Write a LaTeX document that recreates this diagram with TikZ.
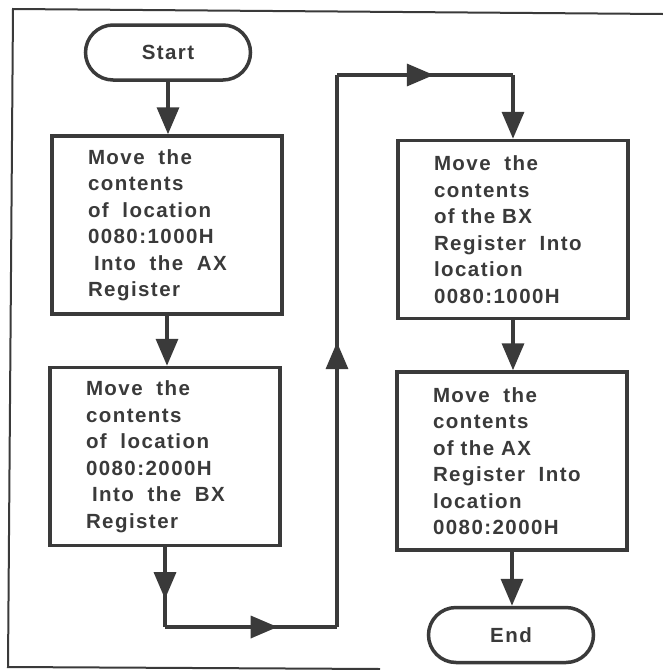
\documentclass[tikz,border=0pt]{standalone}
\usepackage{fontspec}
\setmainfont{Liberation Sans}[LetterSpace=7]
\usetikzlibrary{arrows.meta,decorations.markings,shapes.misc}
\definecolor{inkgrey}{HTML}{3A3A3A}
\tikzset{
  ink/.style={draw=inkgrey, line width=3.5pt},
  boxfont/.style={font=\bfseries\fontsize{20.5}{26.5}\selectfont, text=inkgrey},
  terminal/.style={ink, boxfont, rounded rectangle, minimum width=165pt, minimum height=55pt, inner sep=0pt},
  process/.style={ink, boxfont, rectangle, minimum height=178pt, text width=158pt, inner xsep=36pt, align=left},
  headtip/.tip={Triangle[length=27pt,width=22pt]},
  flow/.style={draw=inkgrey, line width=3.5pt, -headtip},
  midhead/.style={postaction={decorate}, decoration={markings, mark=at position #1 with {\arrow{headtip}}}},
}

\begin{document}
\begin{tikzpicture}[x=1pt, y=-1pt]
\useasboundingbox (0,0) rectangle (663,670);
% page frame
\draw[draw=inkgrey, line width=2pt] (663,14) -- (13,9) -- (8,667) -- (380,669);
% left column
\draw (168,52.5) node[terminal] (start) {Start};
\draw (167,225) node[process] (b1) {Move~ the\\contents\\of~ location\\0080:1000H\\\hspace*{6pt}Into~ the~ AX\\Register};
\draw (165,456.5) node[process] (b2) {Move~ the\\contents\\of~ location\\0080:2000H\\\hspace*{6pt}Into~ the~ BX\\Register};
% right column
\draw (513,229.5) node[process] (b3) {Move~ the\\contents\\of the BX\\Register~ Into\\location\\0080:1000H};
\draw (512,461) node[process] (b4) {Move~ the\\contents\\of the AX\\Register~ Into\\location\\0080:2000H};
\draw (511,635) node[terminal] (end) {End};
% route between the columns
\coordinate (r1) at (b2.south |- 0,627);
\coordinate (r2) at (337,627);
\coordinate (r3) at (337,75);
\coordinate (r4) at (b3.north |- 0,75);
\path (start.south) edge [flow] (start.south |- b1.north);
\path (b1.south) edge [flow] (b1.south |- b2.north);
\draw[ink, midhead=0.65] (b2.south) -- (r1);
\draw[ink, midhead=0.655] (r1) -- (r2);
\draw[ink, midhead=0.516] (r2) -- (r3);
\draw[ink, midhead=0.55] (r3) -- (r4);
\path (r4) edge [flow] (b3.north);
\path (b3.south) edge [flow] (b3.south |- b4.north);
\path (b4.south) edge [flow] (b4.south |- end.north);
\end{tikzpicture}
\end{document}
